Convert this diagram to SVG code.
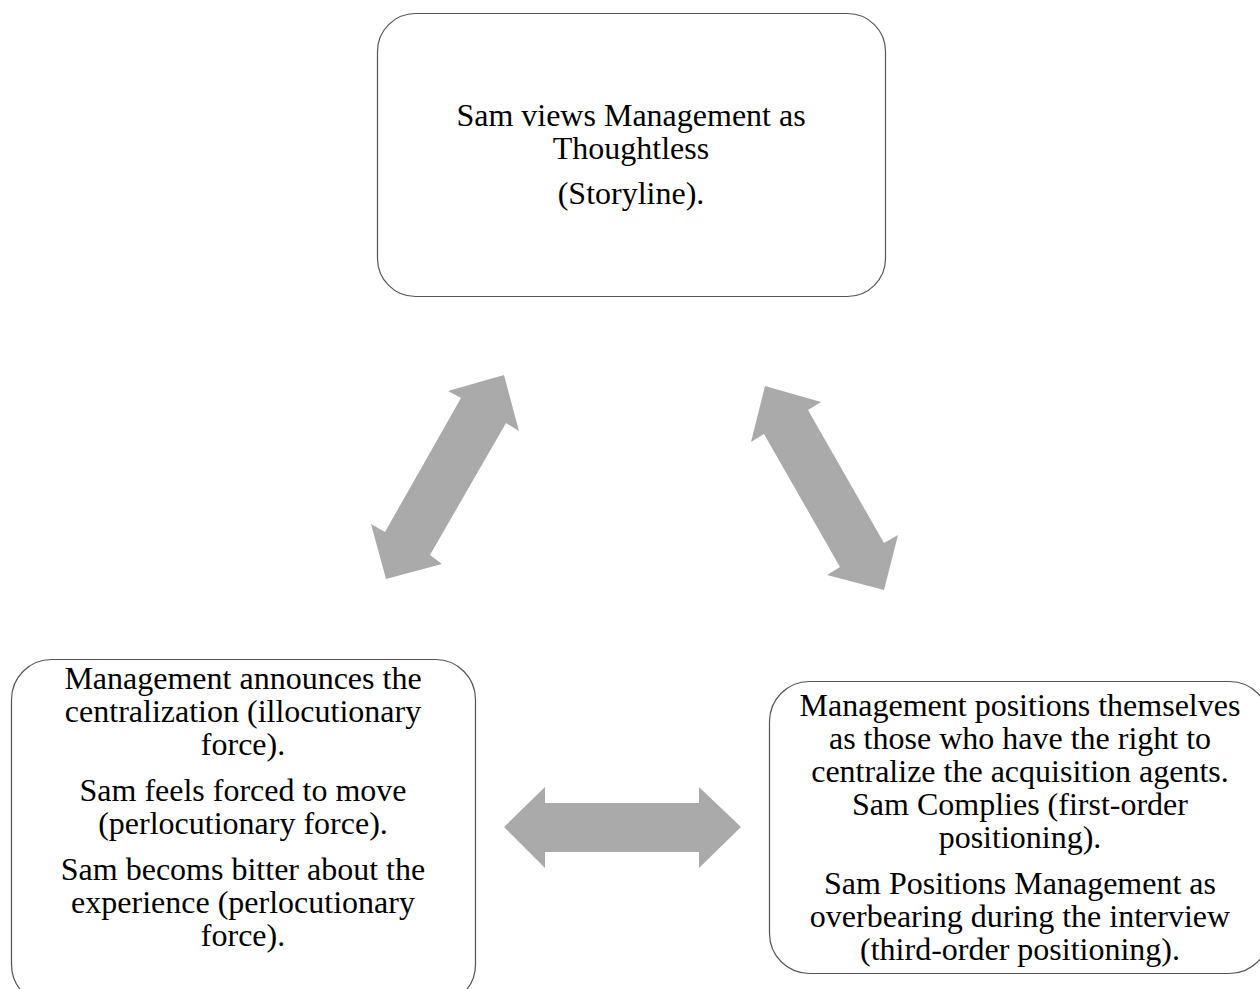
<svg xmlns="http://www.w3.org/2000/svg" width="1260" height="989" viewBox="0 0 1260 989">
  <style>
    .box { fill: #ffffff; stroke: #555555; stroke-width: 1.2; }
    .arrow { fill: #aaaaaa; stroke: none; }
    text { font-family: "Liberation Serif", "Times New Roman", serif; font-size: 32px; fill: #000000; text-anchor: middle; }
  </style>
  <rect width="1260" height="989" fill="#ffffff"/>

  <g id="connectors">
    <!-- storyline <-> illocutionary force -->
    <polygon class="arrow" points="504,375 519,431 506,423 430,555 442,564 386,579 371,524 385,532 461,398 448,391"/>
    <!-- storyline <-> positioning -->
    <polygon class="arrow" points="765,386 821,402 808,410 884,543 898,535 884,590 827,575 840,567 764,434 751,442"/>
    <!-- illocutionary force <-> positioning -->
    <polygon class="arrow" points="504,827 545,787 545,803 699,803 699,787 741,827 699,868 699,852 545,852 545,868"/>
  </g>

  <g id="storyline">
    <rect class="box" x="377.5" y="13.5" width="508" height="283" rx="38"/>
    <text x="631" y="126">Sam views Management as</text>
    <text x="631" y="159">Thoughtless</text>
    <text x="631" y="204">(Storyline).</text>
  </g>

  <g id="speech-acts">
    <rect class="box" x="11.5" y="659.5" width="464" height="345" rx="40"/>
    <text x="243" y="689">Management announces the</text>
    <text x="243" y="722">centralization (illocutionary</text>
    <text x="243" y="755">force).</text>
    <text x="243" y="801">Sam feels forced to move</text>
    <text x="243" y="834">(perlocutionary force).</text>
    <text x="243" y="880">Sam becoms bitter about the</text>
    <text x="243" y="913">experience (perlocutionary</text>
    <text x="243" y="946">force).</text>
  </g>

  <g id="positioning">
    <rect class="box" x="769.5" y="681.5" width="500" height="292" rx="40"/>
    <text x="1020" y="716">Management positions themselves</text>
    <text x="1020" y="749">as those who have the right to</text>
    <text x="1020" y="782">centralize the acquisition agents.</text>
    <text x="1020" y="815">Sam Complies (first-order</text>
    <text x="1020" y="848">positioning).</text>
    <text x="1020" y="894">Sam Positions Management as</text>
    <text x="1020" y="927">overbearing during the interview</text>
    <text x="1020" y="960">(third-order positioning).</text>
  </g>
</svg>
